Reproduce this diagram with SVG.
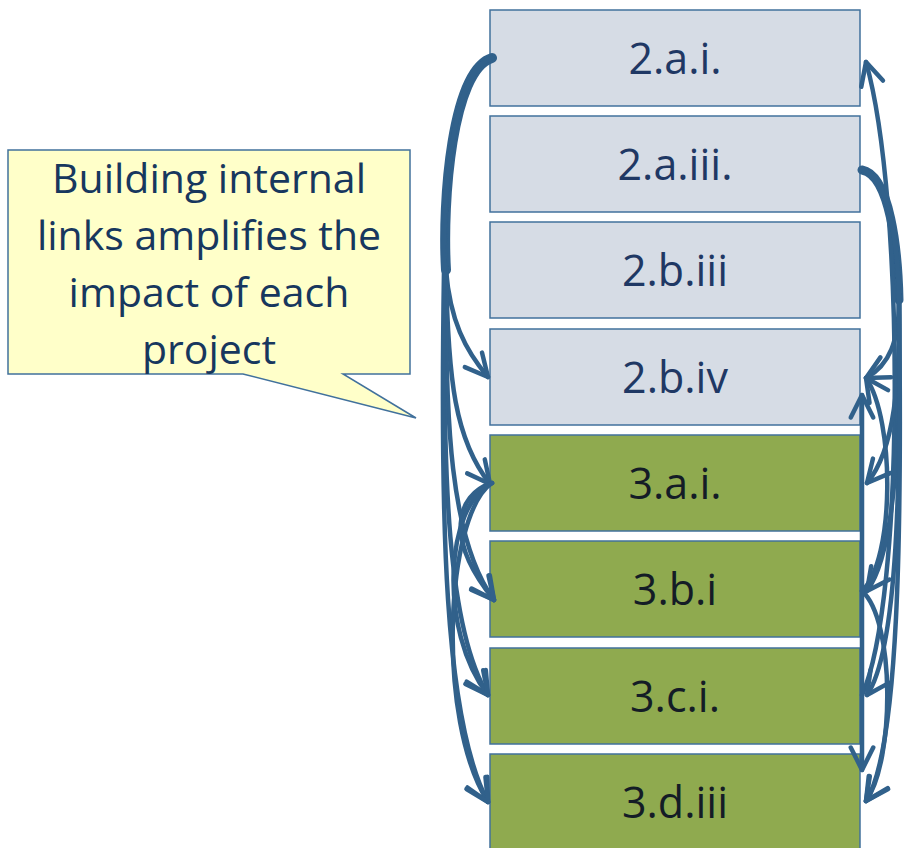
<svg xmlns="http://www.w3.org/2000/svg" width="904" height="848" viewBox="0 0 904 848">
<defs>
<style>
.box{stroke:#41719c;stroke-width:1.5}
.blue{fill:#d6dce5}
.green{fill:#8faa4f}
.lbl{font-family:"Open Sans","Noto Sans",sans-serif;font-size:43px;text-anchor:middle}
.bl{fill:#1f3864}
.gl{fill:#141c26}
.con{fill:none;stroke:#31618b;stroke-width:4.5;stroke-linecap:round}
.trunk{fill:none;stroke:#31618b;stroke-linecap:round}
.callt{font-family:"Open Sans","Noto Sans",sans-serif;font-size:41px;text-anchor:middle;fill:#17375e}
</style>
<marker id="ah" markerUnits="userSpaceOnUse" markerWidth="30" markerHeight="30" viewBox="0 0 24 24" refX="21" refY="12" orient="auto-start-reverse">
<path d="M3,3 L21,12 L3,21" fill="none" stroke="#31618b" stroke-width="3.6" stroke-linecap="round" stroke-linejoin="round"/>
</marker>
</defs>
<g id="callout">
<path d="M8,150 L410,150 L410,374 L343,374 L416,418 L243,374 L8,374 Z" fill="#ffffc9" stroke="#41719c" stroke-width="1.5"/>
<text class="callt" x="209" y="193">Building internal</text>
<text class="callt" x="209" y="250">links amplifies the</text>
<text class="callt" x="209" y="307">impact of each</text>
<text class="callt" x="209" y="364">project</text>
</g>
<g id="n2ai"><rect class="box blue" x="490" y="10" width="370" height="96"/><text class="lbl bl" x="675" y="74">2.a.i.</text></g>
<g id="n2aiii"><rect class="box blue" x="490" y="116" width="370" height="96"/><text class="lbl bl" x="675" y="180">2.a.iii.</text></g>
<g id="n2biii"><rect class="box blue" x="490" y="222" width="370" height="96"/><text class="lbl bl" x="675" y="286">2.b.iii</text></g>
<g id="n2biv"><rect class="box blue" x="490" y="329" width="370" height="96"/><text class="lbl bl" x="675" y="393">2.b.iv</text></g>
<g id="n3ai"><rect class="box green" x="490" y="435" width="370" height="96"/><text class="lbl gl" x="675" y="499">3.a.i.</text></g>
<g id="n3bi"><rect class="box green" x="490" y="541" width="370" height="96"/><text class="lbl gl" x="675" y="605">3.b.i</text></g>
<g id="n3ci"><rect class="box green" x="490" y="648" width="370" height="96"/><text class="lbl gl" x="675" y="712">3.c.i.</text></g>
<g id="n3diii"><rect class="box green" x="490" y="754" width="370" height="100"/><text class="lbl gl" x="675" y="818">3.d.iii</text></g>
<g id="connectors">
<path class="trunk" d="M492,58 C452,70 442,200 446,270" stroke-width="10"/>
<path class="trunk" d="M862,170 C890,175 898,250 899,300" stroke-width="9"/>
<path class="con" d="M492,58 C452,70 442,200 446,270 C450,320 465,350 488,377" marker-end="url(#ah)"/>
<path class="con" d="M492,58 C452,70 442,200 446,270 C448,380 455,440 490,484" marker-end="url(#ah)"/>
<path class="con" d="M492,58 C452,70 442,200 446,270 C445,420 450,540 494,600" marker-end="url(#ah)"/>
<path class="con" d="M492,58 C452,70 442,200 445,270 C442,480 448,630 488,695" marker-end="url(#ah)"/>
<path class="con" d="M492,58 C452,70 442,200 444,270 C440,520 444,720 488,802" marker-end="url(#ah)"/>
<path class="con" d="M492,483 C455,495 445,540 494,600" marker-end="url(#ah)"/>
<path class="con" d="M492,483 C445,505 438,630 488,695" marker-end="url(#ah)"/>
<path class="con" d="M492,483 C445,515 436,720 488,802" marker-end="url(#ah)"/>
<path class="con" d="M862,695 C905,600 905,200 866,62" marker-end="url(#ah)"/>
<path class="con" d="M862,170 C890,175 898,250 899,300 C899,340 890,365 866,378" marker-end="url(#ah)"/>
<path class="con" d="M862,170 C890,175 898,250 899,300 C900,380 895,450 867,483" marker-end="url(#ah)"/>
<path class="con" d="M862,170 C890,175 898,250 899,300 C900,430 897,550 867,591" marker-end="url(#ah)"/>
<path class="con" d="M862,170 C890,175 898,250 899,300 C901,480 898,650 867,695" marker-end="url(#ah)"/>
<path class="con" d="M862,170 C890,175 898,250 899,300 C902,530 899,750 866,801" marker-end="url(#ah)"/>
<path class="con" d="M862,591 C895,620 895,760 866,801" marker-end="url(#ah)"/>
<path class="con" d="M862,591 C895,560 895,420 866,378" marker-end="url(#ah)"/>
<path class="con" d="M862,770 L862,395" marker-start="url(#ah)" marker-end="url(#ah)"/>
</g>
</svg>
